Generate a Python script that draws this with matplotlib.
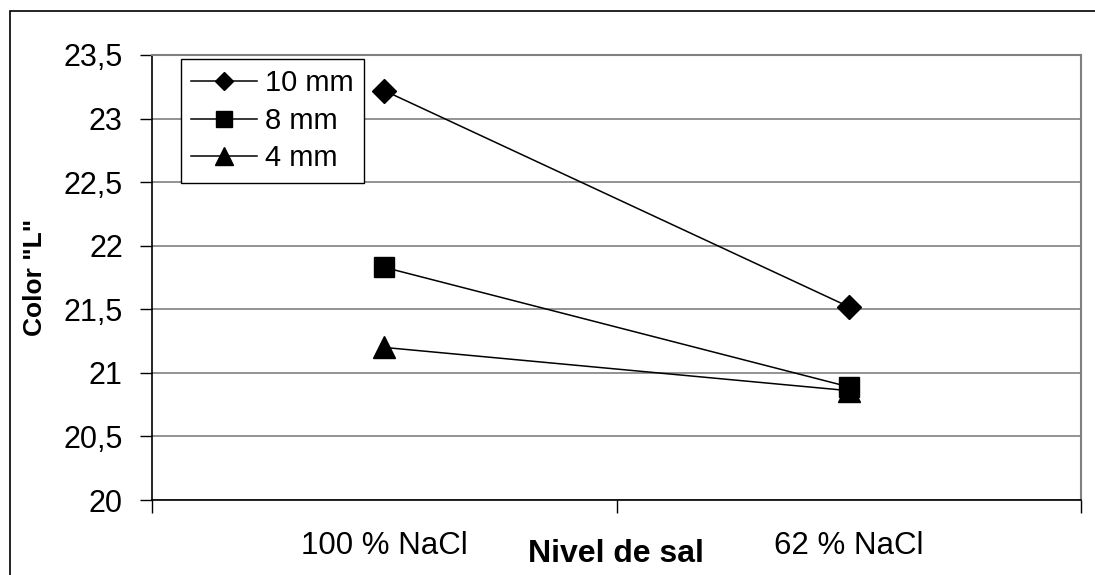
import matplotlib
matplotlib.use("Agg")
import matplotlib.pyplot as plt
from matplotlib.patches import Rectangle

plt.rcParams['font.family'] = ['Liberation Sans', 'DejaVu Sans']

categories = ["100 % NaCl", "62 % NaCl"]
series_names = ["10 mm", "8 mm", "4 mm"]
v10 = [23.22, 21.52]
v8 = [21.83, 20.89]
v4 = [21.20, 20.86]
markers = ['D', 's', '^']
msizes = [12, 15, 16]
ytick_vals = [20, 20.5, 21, 21.5, 22, 22.5, 23, 23.5]
ytick_labels = ["20", "20,5", "21", "21,5", "22", "22,5", "23", "23,5"]

fig = plt.figure(figsize=(10.95, 5.75), dpi=100)
ax = fig.add_axes([152/1095, 1 - 500/575, 929/1095, 445/575])

# outer chart frame (runs off right/bottom edge like the original)
fig.patches.append(Rectangle((10/1095, -0.1), 1.2, 1 - 11/575 + 0.1,
                             transform=fig.transFigure, fill=False,
                             edgecolor='black', linewidth=1.2))

xpos = [0.5, 1.5]
for vals, name, m, ms in zip([v10, v8, v4], series_names, markers, msizes):
    ax.plot(xpos, vals, color='black', linewidth=1.1, marker=m,
            markersize=ms, markerfacecolor='black', markeredgecolor='black',
            label=name, zorder=3)

ax.set_xlim(0, 2)
ax.set_ylim(20, 23.5)
ax.set_yticks(ytick_vals)
ax.set_yticklabels(ytick_labels, fontsize=22)
ax.yaxis.grid(True, color='#808080', linewidth=1.2)
ax.set_axisbelow(True)

ax.set_xticks([0, 1, 2])
ax.set_xticklabels([])
ax.set_xticks(xpos, minor=True)
ax.set_xticklabels(categories, minor=True, fontsize=22.5)
ax.tick_params(axis='x', which='major', direction='out', length=9, width=1, color='black')
ax.tick_params(axis='x', which='minor', length=0, pad=22)
ax.tick_params(axis='y', direction='out', length=9, width=1, pad=12)

for s in ['top', 'right']:
    ax.spines[s].set_color('#808080')
    ax.spines[s].set_linewidth(1.5)
for s in ['left', 'bottom']:
    ax.spines[s].set_color('black')
    ax.spines[s].set_linewidth(1.2)

ax.set_ylabel('Color "L"', fontsize=19, fontweight='bold', labelpad=12)
fig.text(616/1095, 1 - 554/575, "Nivel de sal", fontsize=23, fontweight='bold',
         ha='center', va='center')

leg = ax.legend(loc='upper left', bbox_to_anchor=(29/929, 1 - 4/445), fontsize=21,
                frameon=True, fancybox=False, edgecolor='black', framealpha=1,
                handlelength=2.25, handletextpad=0.28, labelspacing=0.33,
                borderpad=0.35, markerscale=0.8, borderaxespad=0)
leg.get_frame().set_linewidth(1.0)

fig.savefig("out.png", dpi=100)
